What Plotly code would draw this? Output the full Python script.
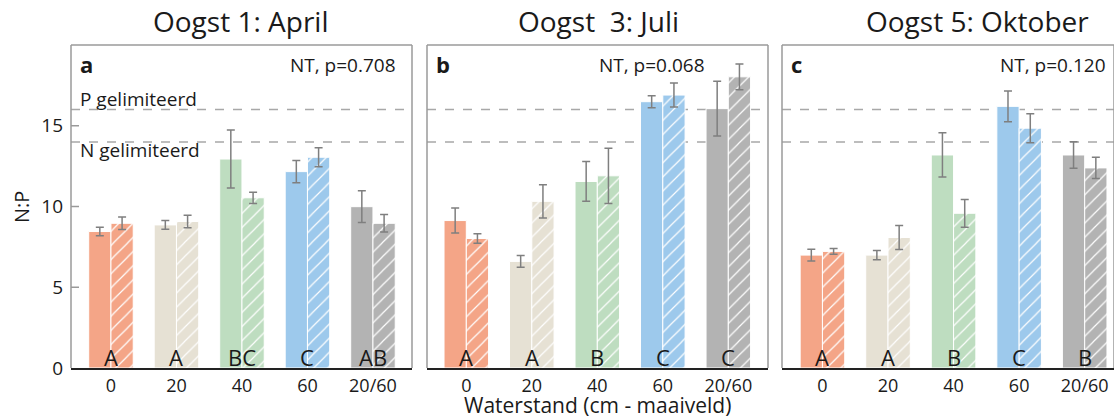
import plotly.graph_objects as go

# Categories: water level (cm below surface)
categories = ["0", "20", "40", "60", "20/60"]
colors = ["#F4A587", "#E6E1D4", "#BEDDC0", "#9DC9EC", "#B3B3B3"]

# N:P ratios per harvest: solid bars and hatched bars, with error margins
harvests = ["Oogst 1: April", "Oogst  3: Juli", "Oogst 5: Oktober"]
panel_tags = ["a", "b", "c"]
p_labels = ["NT, p=0.708", "NT, p=0.068", "NT, p=0.120"]

solid_a = [8.45, 8.86, 12.94, 12.16, 9.99]
solid_a_err = [0.26, 0.27, 1.80, 0.69, 0.98]
hatch_a = [8.96, 9.07, 10.54, 13.05, 8.96]
hatch_a_err = [0.39, 0.39, 0.35, 0.59, 0.54]

solid_b = [9.13, 6.60, 11.55, 16.49, 16.06]
solid_b_err = [0.77, 0.36, 1.23, 0.37, 1.70]
hatch_b = [8.02, 10.32, 11.90, 16.90, 18.03]
hatch_b_err = [0.30, 1.03, 1.71, 0.74, 0.80]

solid_c = [6.99, 6.99, 13.19, 16.20, 13.19]
solid_c_err = [0.37, 0.29, 1.37, 0.95, 0.82]
hatch_c = [7.22, 8.08, 9.58, 14.85, 12.39]
hatch_c_err = [0.18, 0.75, 0.86, 0.90, 0.66]

group_letters_a = ["A", "A", "BC", "C", "AB"]
group_letters_b = ["A", "A", "B", "C", "C"]
group_letters_c = ["A", "A", "B", "C", "B"]

limit_lines = [14, 16]
y_ticks = [0, 5, 10, 15]

W, H = 1114, 416
M_T, M_B = 45, 48
FONT = "Open Sans"
TXT = "#1A1A1A"
FRAME = "#9A9A9A"
ERR = "#7F7F7F"

panels = [
    dict(solid=solid_a, serr=solid_a_err, hatch=hatch_a, herr=hatch_a_err,
         letters=group_letters_a, px=(71, 412), xr=[-0.61, 4.596]),
    dict(solid=solid_b, serr=solid_b_err, hatch=hatch_b, herr=hatch_b_err,
         letters=group_letters_b, px=(427, 768), xr=[-0.60, 4.606]),
    dict(solid=solid_c, serr=solid_c_err, hatch=hatch_c, herr=hatch_c_err,
         letters=group_letters_c, px=(782, 1114), xr=[-0.617, 4.447]),
]


def px_x(p):
    return p / W


def px_y(p):
    # pixel from top -> paper coordinate
    return (H - M_B - p) / (H - M_T - M_B)


fig = go.Figure()
shapes = []
annotations = []
idx = list(range(len(categories)))

for i, pn in enumerate(panels):
    n = "" if i == 0 else str(i + 1)
    xa, ya = "x" + n, "y" + n
    # One trace per bar so each hatch keeps its own background colour
    for k in idx:
        fig.add_trace(go.Bar(
            x=[k], y=[pn["solid"][k]], xaxis=xa, yaxis=ya, offsetgroup="s",
            marker=dict(color=colors[k], line=dict(color="white", width=1)),
            error_y=dict(type="data", array=[pn["serr"][k]], color=ERR,
                         thickness=1.5, width=4),
            showlegend=False, hoverinfo="skip",
        ))
        fig.add_trace(go.Bar(
            x=[k], y=[pn["hatch"][k]], xaxis=xa, yaxis=ya, offsetgroup="h",
            marker=dict(color=colors[k], line=dict(color="white", width=1),
                        pattern=dict(shape="/", fgcolor="white", bgcolor=colors[k],
                                     fgopacity=1, size=10, solidity=0.12,
                                     fillmode="replace")),
            error_y=dict(type="data", array=[pn["herr"][k]], color=ERR,
                         thickness=1.5, width=4),
            showlegend=False, hoverinfo="skip",
        ))

    x0, x1 = px_x(pn["px"][0]), px_x(pn["px"][1])
    fig.update_layout(**{
        ("xaxis" + n): dict(domain=[x0, x1], range=pn["xr"], tickvals=idx,
                             ticktext=categories, showline=True, linecolor="#222222",
                             linewidth=1.5, ticks="", showgrid=False, zeroline=False,
                             tickfont=dict(family=FONT, size=18, color=TXT),
                             ticklabelstandoff=1, anchor=ya),
        ("yaxis" + n): dict(range=[0, 20], domain=[0, 1], anchor=xa,
                             showgrid=False, zeroline=False, showline=False,
                             tickvals=y_ticks if i == 0 else [],
                             showticklabels=(i == 0),
                             ticks="", tickfont=dict(family=FONT, size=19, color=TXT),
                             ticklabelstandoff=7),
    })

    # Frame: left, top and right edges in grey
    for (ax0, ay0, ax1, ay1) in [(x0, 0, x0, 1), (x0, 1, x1, 1), (x1, 0, x1, 1)]:
        shapes.append(dict(type="line", xref="paper", yref="paper",
                           x0=ax0, y0=ay0, x1=ax1, y1=ay1,
                           line=dict(color=FRAME, width=1.5)))
    # Inside tick marks on the first panel
    if i == 0:
        for t in y_ticks[1:]:
            shapes.append(dict(type="line", xref="paper", yref=ya,
                               x0=x0, x1=x0 + 8 / W, y0=t, y1=t,
                               line=dict(color=FRAME, width=1.5)))
    # N / P limitation thresholds
    for lv in limit_lines:
        shapes.append(dict(type="line", xref=xa + " domain", yref=ya,
                           x0=0, x1=1, y0=lv, y1=lv, layer="below",
                           line=dict(color="#A8A8A8", width=1.5, dash="dash")))

    # Significance letters at the base of each group
    for k, lt in enumerate(pn["letters"]):
        annotations.append(dict(x=k, y=0, xref=xa, yref=ya, text=lt, showarrow=False,
                                xanchor="center", yanchor="bottom", yshift=-6,
                                font=dict(family=FONT, size=22, color=TXT)))

    # Panel tag and test result
    annotations.append(dict(x=px_x(pn["px"][0] + 7), y=px_y(64), xref="paper", yref="paper",
                            text="<b>%s</b>" % panel_tags[i], showarrow=False,
                            xanchor="left", yanchor="middle",
                            font=dict(family=FONT, size=22, color=TXT)))
    right_px = [398, 707, 1108][i]
    annotations.append(dict(x=px_x(right_px), y=px_y(65), xref="paper", yref="paper",
                            text=p_labels[i], showarrow=False,
                            xanchor="right", yanchor="middle",
                            font=dict(family=FONT, size=19, color=TXT)))

# Harvest titles
for cx, t in zip([241, 598, 977], harvests):
    annotations.append(dict(x=px_x(cx), y=px_y(21), xref="paper", yref="paper",
                            text=t.replace("  ", "&nbsp; "), showarrow=False,
                            xanchor="center", yanchor="middle",
                            font=dict(family=FONT, size=28, color=TXT)))

# Threshold labels
annotations.append(dict(x=px_x(78), y=px_y(99), xref="paper", yref="paper",
                        text="P gelimiteerd", showarrow=False, xanchor="left",
                        yanchor="middle", font=dict(family=FONT, size=19, color=TXT)))
annotations.append(dict(x=px_x(78), y=px_y(150), xref="paper", yref="paper",
                        text="N gelimiteerd", showarrow=False, xanchor="left",
                        yanchor="middle", font=dict(family=FONT, size=19, color=TXT)))

# Axis titles
annotations.append(dict(x=px_x(597), y=px_y(405), xref="paper", yref="paper",
                        text="Waterstand (cm - maaiveld)", showarrow=False,
                        xanchor="center", yanchor="middle",
                        font=dict(family=FONT, size=21, color=TXT)))
annotations.append(dict(x=px_x(21), y=px_y(207), xref="paper", yref="paper",
                        text="N:P", showarrow=False, textangle=-90,
                        xanchor="center", yanchor="middle",
                        font=dict(family=FONT, size=20, color=TXT)))

fig.update_layout(
    width=W, height=H,
    margin=dict(l=0, r=0, t=M_T, b=M_B),
    barmode="group", bargap=0.32, bargroupgap=0.0,
    paper_bgcolor="white", plot_bgcolor="white",
    shapes=shapes, annotations=annotations,
    font=dict(family=FONT, color=TXT),
)

fig.write_html("out.html")
